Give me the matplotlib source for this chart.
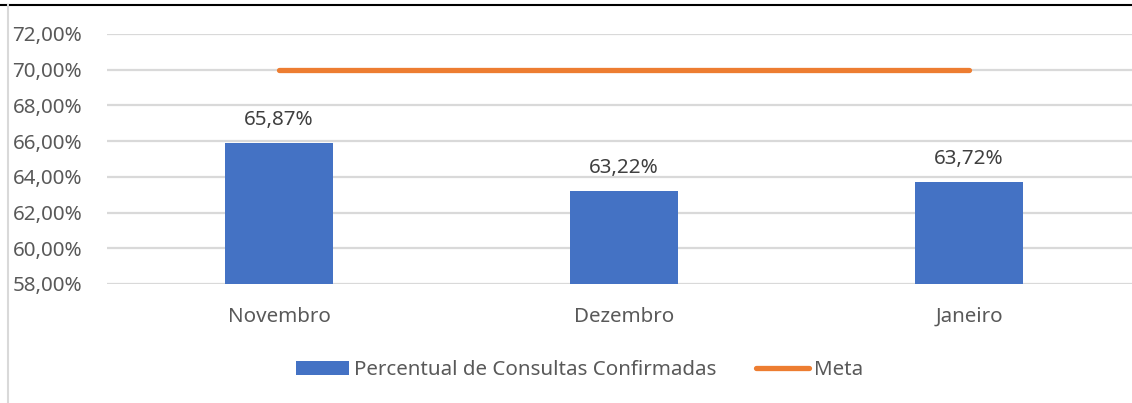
import matplotlib
matplotlib.use("Agg")
import matplotlib.pyplot as plt
from matplotlib.lines import Line2D
from matplotlib.ticker import FuncFormatter

categories = ["Novembro", "Dezembro", "Janeiro"]
percentual = [65.87, 63.22, 63.72]
meta = [70.0, 70.0, 70.0]
yticks = [58, 60, 62, 64, 66, 68, 70, 72]
labels = ["65,87%", "63,22%", "63,72%"]

plt.rcParams['font.family'] = ['Noto Sans', 'DejaVu Sans']

BLUE = "#4472C4"
ORANGE = "#ED7D31"
GRID = "#D9D9D9"
TXT = "#595959"
LBL = "#404040"
FS = 14.8

fig = plt.figure(figsize=(11.32, 4.03), dpi=100)
W, H = 1132, 403
left, right = 106.5 / W, 1141.5 / W
top, bottom = 1 - 34 / H, 1 - 284 / H
ax = fig.add_axes([left, bottom, right - left, top - bottom])

x = list(range(len(categories)))
ax.set_xlim(-0.5, len(categories) - 0.5)
ax.set_ylim(58, 72)
ax.set_yticks(yticks)
ax.yaxis.set_major_formatter(FuncFormatter(lambda v, p: f"{v:.2f}%".replace(".", ",")))
ax.grid(axis="y", color=GRID, linewidth=1.6, zorder=0)
ax.set_axisbelow(True)
for s in ax.spines.values():
    s.set_visible(False)
ax.tick_params(axis="both", length=0, labelsize=FS, labelcolor=TXT)
ax.tick_params(axis="y", pad=17.5)
ax.tick_params(axis="x", pad=16.5)
ax.set_xticks(x)
ax.set_xticklabels(categories)

bars = ax.bar(x, percentual, width=0.313, color=BLUE, zorder=2,
              label="Percentual de Consultas Confirmadas", bottom=0)
line, = ax.plot(x, meta, color=ORANGE, linewidth=3.8, solid_capstyle="round",
                zorder=3, label="Meta")
for xi, v, t in zip(x, percentual, labels):
    ax.annotate(t, (xi, v), xytext=(0, 9.5), textcoords="offset points",
                ha="center", va="bottom", fontsize=FS, color=LBL)

fig.legend(handles=[bars, line], loc="center", bbox_to_anchor=(579.5 / W, 1 - 370 / H),
           ncol=2, frameon=False, fontsize=FS, labelcolor=TXT,
           handlelength=2.6, handleheight=0.67, handletextpad=0.25, columnspacing=1.9)

# frame fragments
fig.add_artist(Line2D([0, 1], [1 - 4.5 / H, 1 - 4.5 / H], color="black", linewidth=1.5,
                      transform=fig.transFigure))
fig.add_artist(Line2D([8 / W, 8 / W], [0, 1 - 5 / H], color=GRID, linewidth=1.5,
                      transform=fig.transFigure))

fig.savefig("out.png", dpi=100)
